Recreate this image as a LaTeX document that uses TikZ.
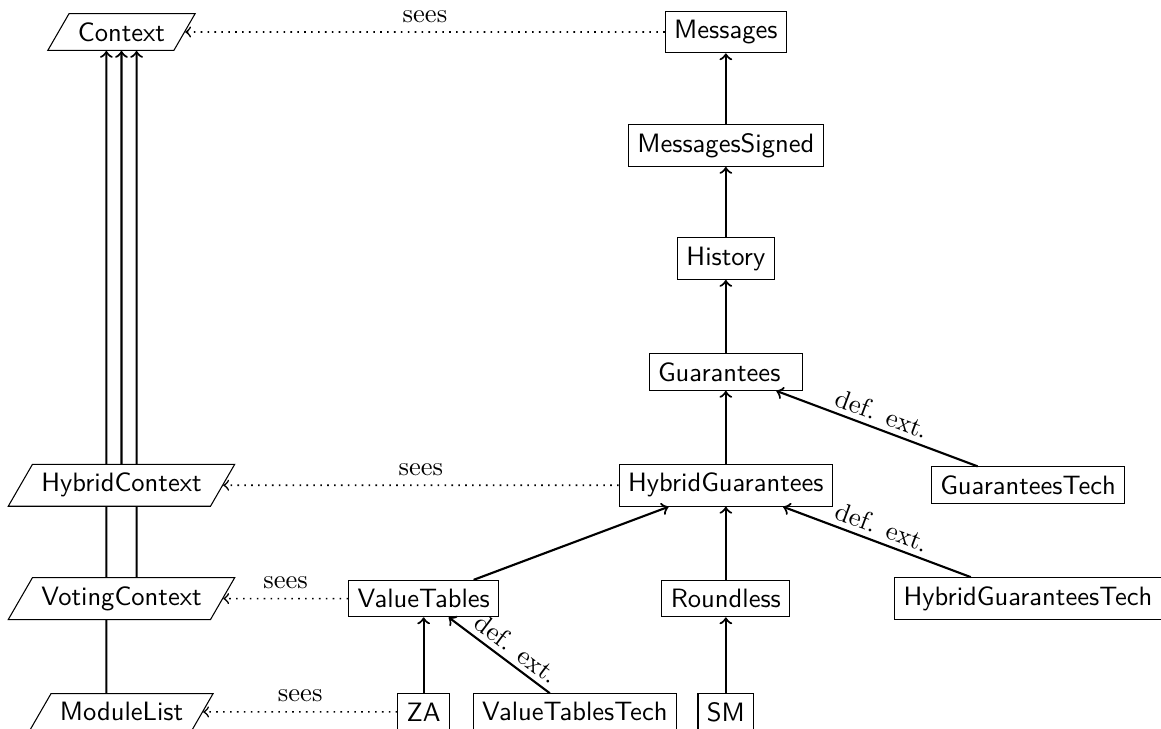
\documentclass[tikz,border=0pt]{standalone}
\usetikzlibrary{shapes.geometric,backgrounds}
\begin{document}
\begin{tikzpicture}[
  mod/.style={draw, fill=white, font=\sffamily},
  ctx/.style={draw, fill=white, font=\sffamily, trapezium, trapezium left angle=60, trapezium right angle=120},
  inh/.style={->, thick},
  seesarrow/.style={->, dotted, semithick},
  lbl/.style={midway, sloped, above, inner sep=2pt}
]
\useasboundingbox (-1.608,0.4236) rectangle (13.76,-9.226);

\node[ctx] (ctx) at (0,0) {Context};
\node[ctx] (hctx) at (0,-6) {HybridContext};
\node[ctx] (vctx) at (0,-7.5) {VotingContext};
\node[ctx] (ml) at (0,-9) {ModuleList};

\node[mod] (msg) at (8,0) {Messages};
\node[mod] (msgs) at (8,-1.5) {MessagesSigned};
\node[mod] (hist) at (8,-3) {History};
\node[mod] (guar) at (8,-4.5) {Guarantees\hspace*{5pt}};
\node[mod] (gt) at (12,-6) {GuaranteesTech};
\node[mod] (hg) at (8,-6) {HybridGuarantees};
\node[mod] (hgt) at (12,-7.5) {HybridGuaranteesTech};
\node[mod] (rl) at (8,-7.5) {Roundless};
\node[mod] (vt) at (4,-7.5) {ValueTables};
\node[mod] (za) at (4,-9) {ZA};
\node[mod] (vtt) at (6,-9) {ValueTablesTech};
\node[mod] (sm) at (8,-9) {SM};

\begin{pgfonlayer}{background}
\draw[inh] ([xshift=-0.2cm]ml.north) -- ([xshift=-0.2cm]ctx.south);
\draw[inh] ([xshift=0.2cm]vctx.north) -- ([xshift=0.2cm]ctx.south);
\end{pgfonlayer}
\draw[inh] (hctx) -- (ctx);

\draw[inh] (msgs) -- (msg);
\draw[inh] (hist) -- (msgs);
\draw[inh] (guar) -- (hist);
\draw[inh] (hg) -- (guar);
\draw[inh] (gt) -- node[lbl]{def. ext.} (guar);
\draw[inh] (hgt) -- node[lbl]{def. ext.} (hg);
\draw[inh] (rl) -- (hg);
\draw[inh] (vt) -- (hg);
\draw[inh] (za) -- (vt);
\draw[inh] (vtt) -- node[lbl, pos=0.42]{def. ext.} (vt);
\draw[inh] (sm) -- (rl);

\draw[seesarrow] (msg) -- node[above]{sees} (ctx);
\draw[seesarrow] (hg) -- node[above]{sees} (hctx);
\draw[seesarrow] (vt) -- node[above]{sees} (vctx);
\draw[seesarrow] (za) -- node[above]{sees} (ml);
\end{tikzpicture}
\end{document}
